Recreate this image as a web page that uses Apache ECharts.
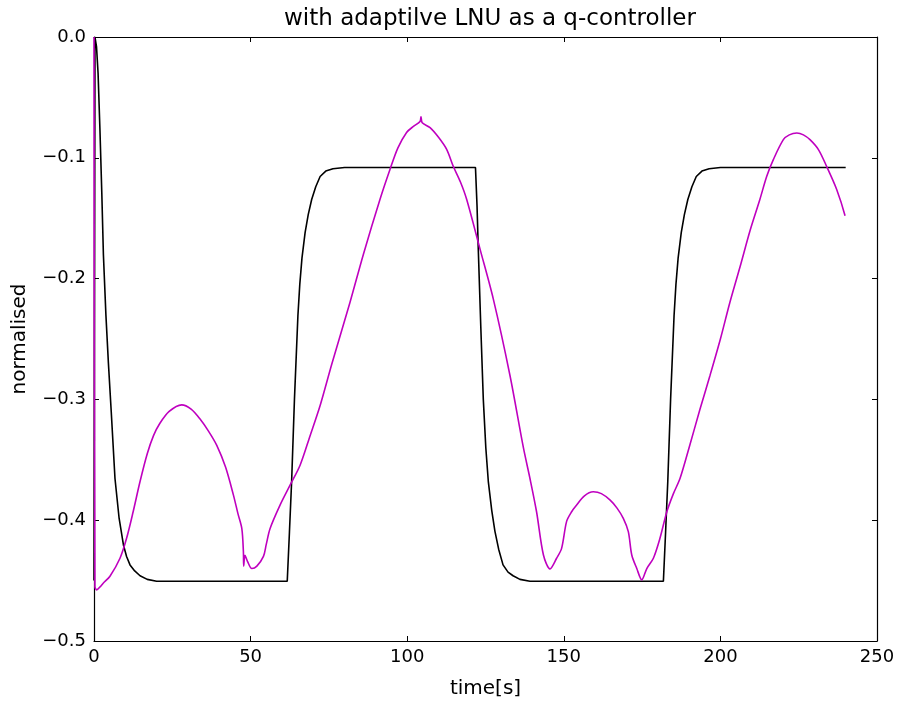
<!DOCTYPE html>
<html>
<head>
<meta charset="utf-8">
<script src="https://cdn.jsdelivr.net/npm/echarts@6/dist/echarts.min.js"></script>
<style>
html,body{margin:0;padding:0;background:#fff;}
#chart{width:898px;height:704px;}
</style>
</head>
<body>
<div id="chart"></div>
<script>
// x ticks and y ticks
var xTicks = [0, 50, 100, 150, 200, 250];
var yTicks = [0.0, -0.1, -0.2, -0.3, -0.4, -0.5];

// reference (black) signal
var refTime  = [0, 0.3, 0.8, 1.3, 1.9, 2.5, 3.0, 3.8, 4.6, 5.5, 6.7, 8.0, 9.4, 10.4, 11.5, 13.0, 14.7, 17.0, 20.0,
                61.7, 62.4, 63.1, 64.0, 65.1, 65.7, 66.4, 67.4, 68.4, 69.5, 70.8, 72.2, 74.0, 76.3, 80.0,
                121.8, 122.3, 122.7, 123.5, 124.3, 125.1, 125.9, 127.0, 128.0, 129.2, 130.6, 132.2, 133.8, 136.0, 139.2,
                181.8, 182.5, 183.2, 184.1, 185.2, 185.8, 186.5, 187.5, 188.5, 189.6, 190.9, 192.3, 194.1, 196.4, 200.0, 240.0];
var refValue = [-0.45, 0.0, -0.008, -0.03, -0.077, -0.13, -0.18, -0.23, -0.27, -0.31, -0.3655, -0.398, -0.4205, -0.43, -0.437, -0.442, -0.446, -0.449, -0.4505,
                -0.4505, -0.41, -0.368, -0.30, -0.231, -0.205, -0.183, -0.162, -0.147, -0.1345, -0.124, -0.1155, -0.111, -0.109, -0.108,
                -0.108, -0.14, -0.176, -0.24, -0.30, -0.34, -0.368, -0.392, -0.409, -0.424, -0.437, -0.443, -0.446, -0.449, -0.4505,
                -0.4505, -0.41, -0.368, -0.30, -0.231, -0.205, -0.183, -0.162, -0.147, -0.1345, -0.124, -0.1155, -0.111, -0.109, -0.108, -0.108];

// controller output (magenta)
var outTime  = [0, 0.3, 0.86, 2.0, 3.0, 5.1, 8.3, 10.4, 12.5, 14.7, 17.0, 19.0, 21.0, 24.0, 28.0, 31.0, 33.8, 36.5, 39.2, 42.0, 44.5, 46.0, 47.2, 47.7, 47.8, 48.2, 49.0, 50.4, 52.0, 54.1, 55.0, 56.2, 59.4, 62.6, 65.8, 69.0, 72.2, 76.0, 81.7, 86.0, 91.3, 94.5, 97.0, 99.8, 102.0, 104.1, 104.4, 104.8, 107.3, 110.0, 112.6, 114.7, 117.0, 119.0, 123.3, 127.5, 132.8, 137.1, 139.2, 141.3, 143.5, 145.6, 147.7, 149.3, 150.9, 152.5, 154.1, 156.5, 159.4, 162.0, 164.8, 167.0, 169.0, 170.6, 171.7, 173.3, 174.9, 176.5, 178.6, 180.7, 182.9, 185.0, 187.1, 190.0, 193.5, 196.7, 200.0, 203.0, 206.3, 209.5, 212.6, 214.8, 216.9, 220.1, 222.0, 224.4, 226.5, 228.6, 231.3, 233.9, 237.1, 239.8];
var outValue = [0.0, -0.455, -0.4577, -0.455, -0.452, -0.4464, -0.4315, -0.415, -0.393, -0.368, -0.345, -0.33, -0.32, -0.31, -0.3045, -0.308, -0.316, -0.326, -0.338, -0.356, -0.379, -0.395, -0.407, -0.426, -0.438, -0.429, -0.434, -0.44, -0.438, -0.43, -0.42, -0.407, -0.3875, -0.371, -0.3545, -0.33, -0.305, -0.27, -0.22, -0.18, -0.1345, -0.1097, -0.092, -0.079, -0.074, -0.0699, -0.066, -0.071, -0.075, -0.083, -0.093, -0.107, -0.12, -0.1345, -0.176, -0.217, -0.28, -0.34, -0.3655, -0.393, -0.4288, -0.4403, -0.4315, -0.4233, -0.401, -0.393, -0.3875, -0.38, -0.3765, -0.378, -0.3834, -0.39, -0.3985, -0.4095, -0.4288, -0.44, -0.4494, -0.44, -0.4315, -0.415, -0.393, -0.378, -0.3655, -0.34, -0.308, -0.28, -0.25, -0.22, -0.19, -0.16, -0.1345, -0.1153, -0.1015, -0.085, -0.081, -0.0795, -0.081, -0.085, -0.0932, -0.107, -0.126, -0.148];

function zip(a, b) { return a.map(function (v, i) { return [v, b[i]]; }); }

var FONT = 'DejaVu Sans';
var chart = echarts.init(document.getElementById('chart'), null, {renderer: 'canvas'});

function fmtY(v) {
  var s = Math.abs(v).toFixed(1);
  return (v < -1e-9 ? '\u2212' : '') + s;
}

var tickStyle = {show: true, inside: true, length: 5, lineStyle: {color: '#000', width: 1}};
var lineStyle = {show: true, onZero: false, lineStyle: {color: '#000', width: 1.2}};

chart.setOption({
  animation: false,
  backgroundColor: '#fff',
  title: {
    text: 'with adaptilve LNU as a q-controller',
    left: 485, top: 3, textAlign: 'center',
    textStyle: {fontFamily: FONT, fontSize: 23, fontWeight: 'normal', color: '#000'}
  },
  grid: {left: 94, right: 21, top: 37, bottom: 61, containLabel: false},
  xAxis: [{
    type: 'value', min: xTicks[0], max: xTicks[xTicks.length - 1], interval: 50,
    position: 'bottom',
    name: 'time[s]', nameLocation: 'middle', nameGap: 38,
    nameTextStyle: {fontFamily: FONT, fontSize: 20, color: '#000'},
    axisLine: lineStyle, axisTick: tickStyle, splitLine: {show: false},
    axisLabel: {fontFamily: FONT, fontSize: 18, color: '#000', margin: 7}
  }, {
    type: 'value', min: xTicks[0], max: xTicks[xTicks.length - 1], interval: 50,
    position: 'top',
    axisLine: lineStyle, axisTick: tickStyle, splitLine: {show: false},
    axisLabel: {show: false}
  }],
  yAxis: [{
    type: 'value', min: yTicks[yTicks.length - 1], max: yTicks[0], interval: 0.1,
    position: 'left',
    name: 'normalised', nameLocation: 'middle', nameGap: 64, nameRotate: 90,
    nameTextStyle: {fontFamily: FONT, fontSize: 20, color: '#000'},
    axisLine: lineStyle, axisTick: tickStyle, splitLine: {show: false},
    axisLabel: {fontFamily: FONT, fontSize: 18, color: '#000', margin: 8, formatter: fmtY}
  }, {
    type: 'value', min: yTicks[yTicks.length - 1], max: yTicks[0], interval: 0.1,
    position: 'right',
    axisLine: lineStyle, axisTick: tickStyle, splitLine: {show: false},
    axisLabel: {show: false}
  }],
  series: [{
    type: 'line', xAxisIndex: 0, yAxisIndex: 0,
    data: zip(refTime, refValue), showSymbol: false, symbol: 'none',
    lineStyle: {color: '#000000', width: 1.6}, z: 2
  }, {
    type: 'line', xAxisIndex: 0, yAxisIndex: 0,
    data: zip(outTime, outValue), showSymbol: false, symbol: 'none', smooth: 0.3,
    lineStyle: {color: '#bf00bf', width: 1.6}, z: 3
  }]
});
</script>
</body>
</html>
